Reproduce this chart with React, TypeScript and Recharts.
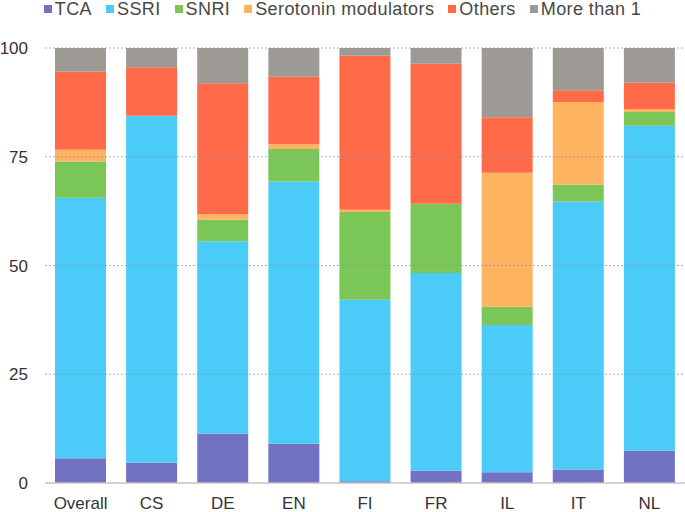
import React from "react";
import { BarChart, Bar, XAxis, YAxis, Legend, ReferenceLine } from "recharts";

const categories = ["Overall", "CS", "DE", "EN", "FI", "FR", "IL", "IT", "NL"];
const tca = [5.7, 4.7, 11.4, 9.0, 0.4, 2.8, 2.5, 3.1, 7.4];
const ssri = [59.9, 79.7, 44.2, 60.3, 41.7, 45.5, 33.8, 61.6, 74.7];
const snri = [8.3, 0, 4.9, 7.5, 20.2, 15.9, 4.2, 3.9, 3.2];
const sero = [2.7, 0, 1.3, 1.1, 0.5, 0, 30.8, 19.0, 0.6];
const others = [18.0, 11.2, 30.1, 15.5, 35.4, 32.2, 12.8, 2.7, 6.1];
const more = [5.4, 4.4, 8.1, 6.6, 1.8, 3.6, 15.9, 9.7, 8.0];
const yTicks = [0, 25, 50, 75, 100];

const series = [
  { key: "TCA", values: tca, color: "#7173C2" },
  { key: "SSRI", values: ssri, color: "#4ACBF8" },
  { key: "SNRI", values: snri, color: "#7AC657" },
  { key: "Serotonin modulators", values: sero, color: "#FDB35F" },
  { key: "Others", values: others, color: "#FF6A48" },
  { key: "More than 1", values: more, color: "#9D9995" },
];

const data = categories.map((c, i) => {
  const row: Record<string, string | number> = { name: c };
  series.forEach((s) => {
    row[s.key] = s.values[i];
  });
  return row;
});

const FONT = "'Liberation Sans', Arial, Helvetica, sans-serif";

const LegendContent = () => (
  <div
    style={{
      display: "flex",
      justifyContent: "center",
      fontFamily: FONT,
      fontSize: 18,
      letterSpacing: 0.4,
      color: "#474747",
      lineHeight: "18px",
      height: 18,
      whiteSpace: "nowrap",
    }}
  >
    {series.map((s, i) => (
      <div
        key={s.key}
        style={{ display: "flex", alignItems: "center", marginRight: i === series.length - 1 ? 0 : 14 }}
      >
        <span style={{ display: "inline-block", width: 8, height: 8, background: s.color, marginRight: 3 }} />
        <span>{s.key}</span>
      </div>
    ))}
  </div>
);

export default function App() {
  return (
    <div style={{ position: "absolute", left: 0, top: 0, width: 685, height: 512, background: "#fff" }}>
      <BarChart
        width={685}
        height={512}
        data={data}
        margin={{ top: 30, right: 0, bottom: 0, left: 0 }}
        barSize={51}
      >
        <XAxis
          dataKey="name"
          tickLine={false}
          axisLine={{ stroke: "#c4c4c4", strokeWidth: 1.5 }}
          tickSize={0}
          tickMargin={14}
          height={29}
          interval={0}
          tick={{ fill: "#333", fontSize: 17, fontFamily: FONT }}
        />
        <YAxis
          domain={[0, 100]}
          ticks={yTicks}
          width={45}
          axisLine={false}
          tickLine={false}
          tickSize={0}
          tickMargin={17}
          tick={{ fill: "#333", fontSize: 17, fontFamily: FONT }}
        />
        <Legend
          verticalAlign="top"
          height={18}
          content={LegendContent}
          wrapperStyle={{ top: 0, left: 0, width: 685 }}
        />
        {series.map((s) => (
          <Bar key={s.key} dataKey={s.key} stackId="a" fill={s.color} isAnimationActive={false} />
        ))}
        {[25, 50, 75, 100].map((v) => (
          <ReferenceLine
            key={v}
            y={v}
            stroke="#8c93a8"
            strokeOpacity={0.75}
            strokeWidth={1.2}
            strokeDasharray="2 2"
          />
        ))}
      </BarChart>
    </div>
  );
}
